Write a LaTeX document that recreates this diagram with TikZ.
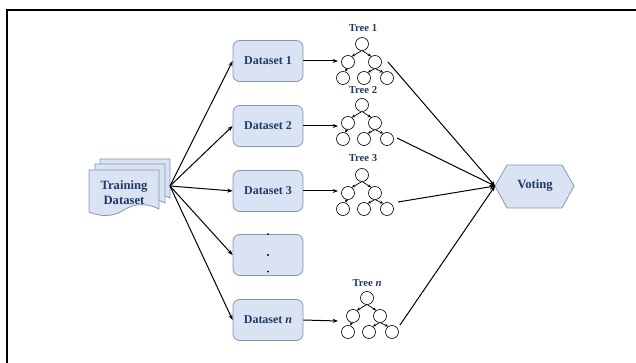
\documentclass[tikz,border=0pt]{standalone}
\usepackage{fontspec}
\setmainfont{Liberation Serif}
\usetikzlibrary{arrows.meta}
\definecolor{boxfill}{HTML}{DAE3F3}
\definecolor{boxdraw}{HTML}{8497B0}
\definecolor{txt}{HTML}{1F3864}
\tikzset{
  dsbox/.style={draw=boxdraw, fill=boxfill, rounded corners=5pt, minimum width=52.5pt, minimum height=30.75pt, font=\bfseries\fontsize{9}{10}\selectfont, text=txt, line width=0.6pt, inner sep=0pt},
  tnode/.style={circle, draw, minimum size=9.75pt, inner sep=0pt, line width=0.5pt},
  tlabel/.style={font=\bfseries\fontsize{8}{9}\selectfont, text=txt, inner sep=0pt},
  arr/.style={-{Stealth[length=4pt,width=3pt]}, line width=0.75pt},
  tarr/.style={-{Stealth[length=2.5pt,width=2.2pt]}, line width=0.55pt},
  docshape/.style={draw=boxdraw, fill=boxfill, line width=0.6pt},
}
\newcommand\mytree[3]{%
  \node[tnode] (#1r) at (#2,#3) {};
  \node[tnode] (#1a) at (#2-14,#3+18) {};
  \node[tnode] (#1b) at (#2+13,#3+18) {};
  \node[tnode] (#1c) at (#2-19,#3+34) {};
  \node[tnode] (#1d) at (#2+2,#3+34) {};
  \node[tnode] (#1e) at (#2+25,#3+34) {};
  \draw[tarr] (#1r.265) -- (#1a.55);
  \draw[tarr] (#1r.275) -- (#1b.125);
  \draw[tarr] (#1a.260) -- (#1c.70);
  \draw[tarr] (#1b.265) -- (#1d.55);
  \draw[tarr] (#1b.275) -- (#1e.125);
}
\newcommand\docpath[2]{%
  \draw[docshape] (#1,#2) -- (#1+70,#2) -- (#1+70,#2+39)
    .. controls (#1+58,#2+33) and (#1+46,#2+33) .. (#1+35,#2+40)
    .. controls (#1+24,#2+47) and (#1+12,#2+47) .. (#1,#2+42) -- cycle;
}
\begin{document}
\begin{tikzpicture}[x=0.75pt,y=-0.75pt]
\useasboundingbox (0,0) rectangle (636,363);
% frame
\draw[line width=1.6pt] (7,370) -- (7,10) -- (645,10);

% training dataset document stack
\docpath{100}{159}
\docpath{95}{164}
\docpath{89}{170}
\node[font=\bfseries\fontsize{9.5}{11}\selectfont, text=txt, align=center, inner sep=0pt] (train) at (124,193) {Training\\Dataset};
\coordinate (fan) at (170,186);

% dataset boxes
\node[dsbox] (d1) at (268,61) {Dataset 1};
\node[dsbox] (d2) at (268,126) {Dataset 2};
\node[dsbox] (d3) at (268,191) {Dataset 3};
\node[dsbox] (d4) at (268,255) {};
\node[dsbox] (dn) at (268,320) {Dataset \textit{n}};
\fill (d4.north) circle (0.8pt);
\fill (d4.center) circle (0.8pt);
\fill ([yshift=-12.5pt]d4.center) circle (0.8pt);

\foreach \b in {d1,d2,d3,d4,dn}{
  \draw[arr] (fan) -- (\b.west);
}

% trees
\node[tlabel] (t1) at (363,28) {Tree 1};
\mytree{ta}{362}{44}
\node[tlabel] (t2) at (363,90) {Tree 2};
\mytree{tb}{362}{105}
\node[tlabel] (t3) at (363,158) {Tree 3};
\mytree{tc}{362}{175}
\node[tlabel] (tn) at (367,283) {Tree \textit{n}};
\mytree{td}{367}{298}

\coordinate (ea) at (338,61);
\coordinate (eb) at (338,126);
\coordinate (ec) at (338,191);
\coordinate (ed) at (338,321);
\draw[arr] (d1.east) -- (ea);
\draw[arr] (d2.east) -- (eb);
\draw[arr] (d3.east) -- (ec);
\draw[arr] (dn.east) -- (ed);

% voting
\draw[docshape] (495,186) -- (507,165) -- (562,165) -- (574,186) -- (562,208) -- (507,208) -- cycle;
\node[font=\bfseries\fontsize{9.5}{11}\selectfont, text=txt, inner sep=0pt] (vote) at (535,186) {Voting};
\coordinate (vt) at (495,186);

\coordinate (sa) at (388,62);
\coordinate (sb) at (397,138);
\coordinate (sc) at (398,202);
\coordinate (sd) at (400,325);
\foreach \s in {sa,sb,sc,sd}{
  \draw[arr] (\s) -- (vt);
}
\end{tikzpicture}
\end{document}
